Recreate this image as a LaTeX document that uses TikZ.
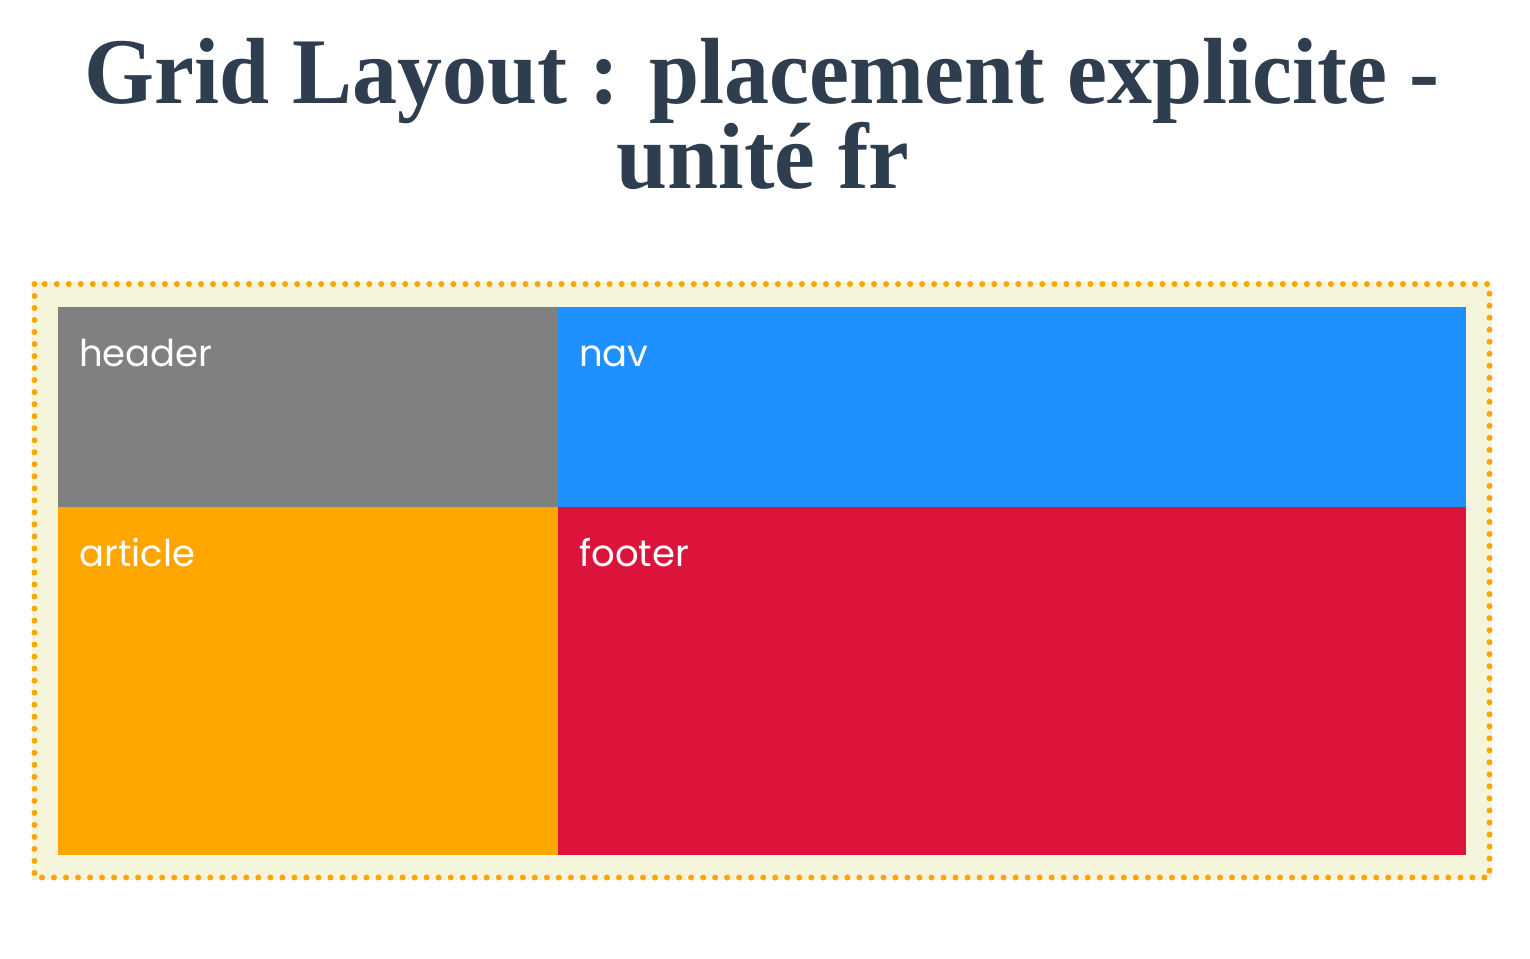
\documentclass[tikz,border=0pt]{standalone}
\usepackage{fontspec}
\usepackage{graphicx}
\newfontfamily\titlefont{Liberation Serif}
\newfontfamily\lblfont{Poppins}
\definecolor{titlec}{HTML}{2F3E4F}
\definecolor{cgray}{HTML}{808080}
\definecolor{cblue}{HTML}{1E90FF}
\definecolor{corange}{HTML}{FFA500}
\definecolor{ccrimson}{HTML}{DC143C}
\definecolor{cbeige}{HTML}{F5F5DC}
\tikzset{
  cell/.style={anchor=north west, inner sep=0pt, draw=none, minimum width=#1},
  lbl/.style={anchor=base west, inner sep=0pt, text=white, font=\lblfont\fontsize{37}{44}\selectfont},
  ttl/.style={inner sep=0pt, text=titlec, font=\titlefont\bfseries\fontsize{94}{110}\selectfont}
}
\begin{document}
\begin{tikzpicture}[x=1pt,y=-1pt]
\useasboundingbox (0,0) rectangle (1530,958);
% title
\node[ttl, anchor=base] (t1) at (762,103) {\resizebox{1355pt}{\height}{Grid Layout : placement explicite -}};
\node[ttl, anchor=base] (t2) at (763,188) {\resizebox{293pt}{\height}{unité fr}};
% container
\node[cell=1460pt, minimum height=598pt, fill=cbeige] (box) at (32,282) {};
\draw[corange, line width=6pt, line cap=round, dash pattern=on 0pt off 12.02pt]
  (34.5,284) rectangle (1489.5,877.5);
% cells
\node[cell=500pt, minimum height=200pt, fill=cgray] (header) at (58,307) {};
\node[cell=908pt, minimum height=200pt, fill=cblue] (nav) at (558,307) {};
\node[cell=500pt, minimum height=348pt, fill=corange] (article) at (58,507) {};
\node[cell=908pt, minimum height=348pt, fill=ccrimson] (footer) at (558,507) {};
% labels
\node[lbl] (lh) at ([shift={(21,59)}]header.north west) {header};
\node[lbl] (ln) at ([shift={(21,59)}]nav.north west) {nav};
\node[lbl] (la) at ([shift={(21,59)}]article.north west) {article};
\node[lbl] (lf) at ([shift={(21,59)}]footer.north west) {footer};
\end{tikzpicture}
\end{document}
